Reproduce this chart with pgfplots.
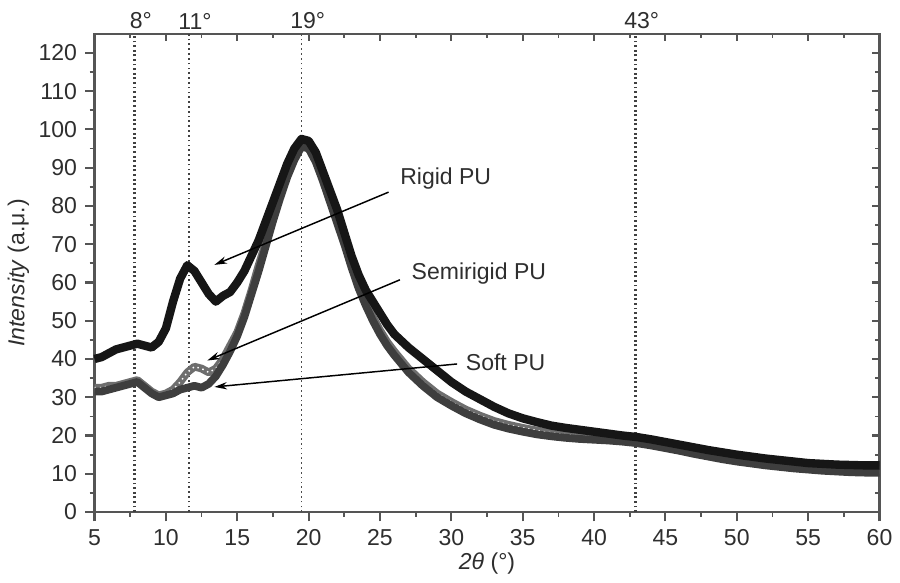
\documentclass[border=0pt]{standalone}
\usepackage{fontspec}
\setmainfont{Liberation Sans}
\usepackage{pgfplots}
\usepackage{pgfplotstable}
\pgfplotsset{compat=1.18}
\usetikzlibrary{arrows.meta}

\definecolor{axgray}{HTML}{555555}
\definecolor{txtgray}{HTML}{2E2E2E}
\definecolor{rigidc}{HTML}{161616}
\definecolor{softc}{HTML}{3E3E3E}
\definecolor{semic}{HTML}{6E6E6E}

\pgfplotstableread{
x y
5 40
5.5 40.5
6 41.5
6.5 42.5
7 43
7.5 43.5
8 44
8.5 43.5
9 43
9.5 44.5
10 48
10.5 55
11 61
11.5 64.5
12 63
12.5 60
13 57
13.5 55
14 56.5
14.5 57.5
15 60
15.5 63
16 67
16.5 71
17 76
17.5 81
18 86
18.5 91
19 95
19.5 97.5
20 97
20.5 94
21 89
21.5 84
22 79
22.5 73
23 67
23.5 62
24 58
24.5 55
25 52
25.5 49
26 46.5
27 43
28 40
29 37
30 34
31 31.5
32 29.5
33 27.5
34 25.8
35 24.5
36 23.5
37 22.6
38 22
39 21.5
40 21
41 20.5
42 20
43 19.6
44 19
45 18.3
46 17.6
47 16.9
48 16.2
49 15.6
50 15
51 14.5
52 14
53 13.6
54 13.2
55 12.8
56 12.6
57 12.4
58 12.3
59 12.2
60 12.2
}\rigid

\pgfplotstableread{
x y
5 32.5
5.5 32.5
6 33
6.5 33
7 33.5
7.5 34
8 34.5
8.5 33
9 31.5
9.5 30.5
10 31
10.5 32
11 34
11.5 36.5
12 38
12.5 37.5
13 36.5
13.5 37.5
14 40
14.5 43.5
15 47
15.5 52
16 58
16.5 64.5
17 70.5
17.5 77
18 83.5
18.5 89
19 93
19.5 96.5
20 96
20.5 92.5
21 87.5
21.5 82
22 76.5
22.5 71
23 65
23.5 59.5
24 55
24.5 51
25 47.5
25.5 44.5
26 42
27 37.5
28 34
29 31
30 28.8
31 26.8
32 25.2
33 23.8
34 22.8
35 22
36 21.3
37 20.7
38 20.2
39 19.9
40 19.6
41 19.4
42 19.1
43 18.6
44 18
45 17.3
46 16.6
47 15.8
48 15.1
49 14.4
50 13.8
51 13.3
52 12.8
53 12.4
54 12
55 11.7
56 11.4
57 11.2
58 11
59 10.9
60 10.9
}\semirigid

\pgfplotstableread{
x y
5 31.5
5.5 31.5
6 32
6.5 32.5
7 33
7.5 33.5
8 34
8.5 32.5
9 31
9.5 30
10 30.5
10.5 31
11 32
11.5 32.5
12 33
12.5 32.5
13 33.5
13.5 35.5
14 38.5
14.5 42
15 46
15.5 51
16 57
16.5 63
17 69.5
17.5 76
18 82
18.5 87.5
19 92
19.5 95.5
20 95
20.5 91.5
21 86.5
21.5 81
22 75.5
22.5 70
23 64
23.5 58.5
24 54
24.5 50
25 46.5
25.5 43.5
26 41
27 36.5
28 33
29 30
30 27.8
31 25.8
32 24.2
33 22.8
34 21.8
35 21
36 20.3
37 19.8
38 19.4
39 19.1
40 18.9
41 18.7
42 18.4
43 18
44 17.4
45 16.7
46 16
47 15.2
48 14.5
49 13.8
50 13.2
51 12.7
52 12.2
53 11.8
54 11.4
55 11.1
56 10.8
57 10.6
58 10.4
59 10.3
60 10.3
}\soft

\begin{document}
\fontsize{11}{13}\selectfont
\begin{tikzpicture}
\pgfplotsset{
  xrdbase/.style={
    scale only axis, width=13.183cm, height=8.033cm,
    xmin=5, xmax=60, ymin=0, ymax=125,
    xtick={5,10,...,60}, ytick={0,10,...,120},
    minor x tick num=1, minor y tick num=1,
    axis line style={draw=axgray, line width=1pt},
    major tick style={draw=axgray, line width=1pt},
    minor tick style={draw=axgray, line width=0.8pt},
  }
}
% top and right ticks, pointing inward
\begin{axis}[xrdbase,
  xtick pos=right, ytick pos=right, tick align=inside,
  xticklabels={}, yticklabels={},
  major tick length=3.5pt, minor tick length=2pt]
\end{axis}

\begin{axis}[xrdbase,
  xtick pos=left, ytick pos=left, tick align=outside,
  major tick length=4.5pt, minor tick length=2.3pt,
  clip=false,
  /pgf/number format/assume math mode=true,
  ticklabel style={text=txtgray, font=\fontsize{11}{13}\selectfont},
  xlabel={\textit{2θ} (°)},
  ylabel={\textit{Intensity} (a.μ.)},
  label style={text=txtgray, font=\fontsize{11}{13}\selectfont},
  xlabel style={yshift=4pt},
  ylabel style={yshift=-3pt},
]
\path (rel axis cs:-0.1163,-0.1224) rectangle (rel axis cs:1.0215,1.0705);

% reference lines
\addplot[black!75, line width=1pt, dash pattern=on 0.9pt off 1.3pt] coordinates {(7.8,0)(7.8,125)};
\addplot[black!75, line width=0.8pt, dash pattern=on 0.8pt off 1.5pt] coordinates {(11.6,0)(11.6,125)};
\addplot[black!70, line width=0.8pt, dash pattern=on 0.8pt off 1.5pt] coordinates {(19.5,0)(19.5,125)};
\addplot[black!75, line width=1pt, dash pattern=on 0.9pt off 1.3pt] coordinates {(42.9,0)(42.9,125)};

% curves
\addplot[semic, line width=3.7pt, line join=round] table {\semirigid};
\addplot[white, line width=0.7pt, dash pattern=on 0.7pt off 1.8pt] table {\semirigid};
\addplot[softc, line width=3.7pt, line join=round] table {\soft};
\addplot[rigidc, line width=4pt, line join=round] table {\rigid};

% top labels
\node[anchor=south, xshift=3pt, inner sep=2pt, text=txtgray] at (axis cs:7.8,125) {8°};
\node[anchor=south, xshift=3pt, inner sep=2pt, text=txtgray] at (axis cs:11.6,125) {11°};
\node[anchor=south, xshift=3pt, inner sep=2pt, text=txtgray] at (axis cs:19.5,125) {19°};
\node[anchor=south, xshift=3pt, inner sep=2pt, text=txtgray] at (axis cs:42.9,125) {43°};

% annotations
\draw[black, line width=0.7pt, -{Stealth[length=6pt,width=3.5pt]}] (axis cs:25.6,83.6) -- (axis cs:13.4,64.6);
\draw[black, line width=0.7pt, -{Stealth[length=6pt,width=3.5pt]}] (axis cs:26.4,60.7) -- (axis cs:12.9,39.6);
\draw[black, line width=0.7pt, -{Stealth[length=6pt,width=3.5pt]}] (axis cs:30.4,38.7) -- (axis cs:13.4,32.7);
\node[anchor=west, inner sep=2pt, text=txtgray] at (axis cs:26.1,87.1) {Rigid PU};
\node[anchor=west, inner sep=2pt, text=txtgray] at (axis cs:26.9,62.4) {Semirigid PU};
\node[anchor=west, inner sep=2pt, text=txtgray] at (axis cs:30.7,39.1) {Soft PU};
\end{axis}
\end{tikzpicture}
\end{document}
